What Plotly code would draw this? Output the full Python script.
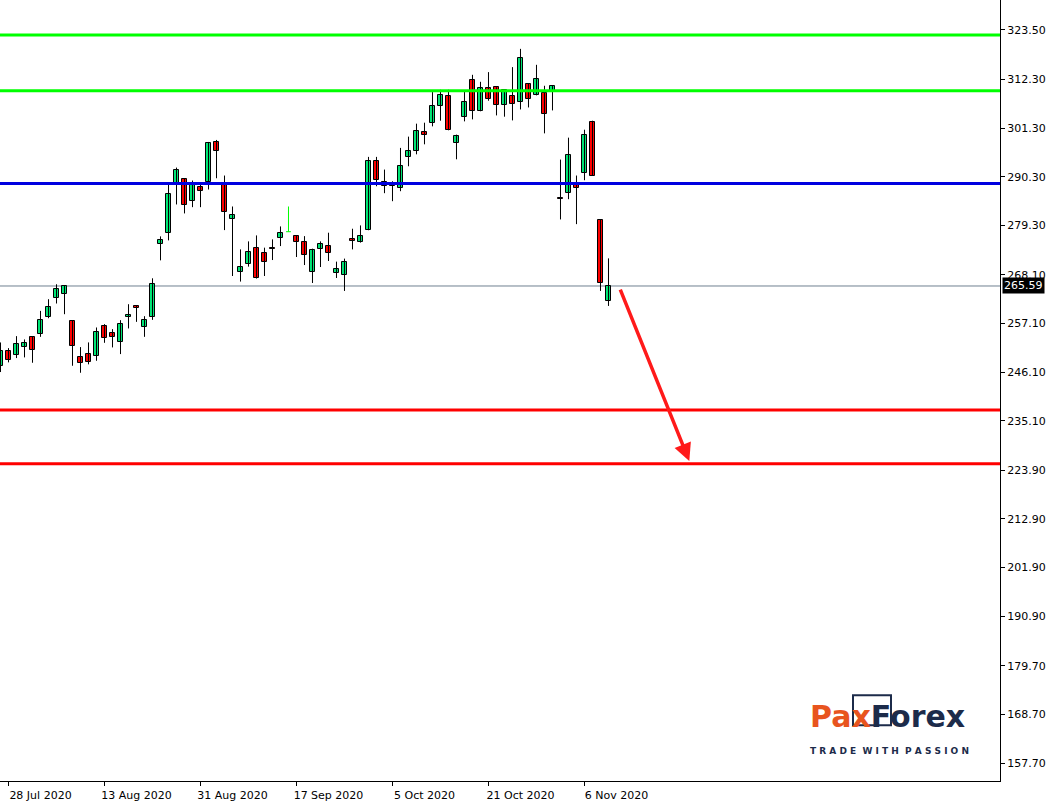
import plotly.graph_objects as go

# ---------------- data (daily candles) ----------------
dates = ["2020-07-27", "2020-07-28", "2020-07-29", "2020-07-30", "2020-07-31",
         "2020-08-03", "2020-08-04", "2020-08-05", "2020-08-06", "2020-08-07",
         "2020-08-10", "2020-08-11", "2020-08-12", "2020-08-13", "2020-08-14",
         "2020-08-17", "2020-08-18", "2020-08-19", "2020-08-20", "2020-08-21",
         "2020-08-24", "2020-08-25", "2020-08-26", "2020-08-27", "2020-08-28",
         "2020-08-31", "2020-09-01", "2020-09-02", "2020-09-03", "2020-09-04",
         "2020-09-08", "2020-09-09", "2020-09-10", "2020-09-11", "2020-09-14",
         "2020-09-15", "2020-09-16", "2020-09-17", "2020-09-18", "2020-09-21",
         "2020-09-22", "2020-09-23", "2020-09-24", "2020-09-25", "2020-09-28",
         "2020-09-29", "2020-09-30", "2020-10-01", "2020-10-02", "2020-10-05",
         "2020-10-06", "2020-10-07", "2020-10-08", "2020-10-09", "2020-10-12",
         "2020-10-13", "2020-10-14", "2020-10-15", "2020-10-16", "2020-10-19",
         "2020-10-20", "2020-10-21", "2020-10-22", "2020-10-23", "2020-10-26",
         "2020-10-27", "2020-10-28", "2020-10-29", "2020-10-30", "2020-11-02",
         "2020-11-03", "2020-11-04", "2020-11-05", "2020-11-06", "2020-11-09",
         "2020-11-10", "2020-11-11"]

opens = [247.41, 250.80, 249.90, 251.84, 254.02, 254.63, 258.60, 262.98, 263.88, 257.57,
         249.44, 250.12, 249.67, 256.44, 254.86, 252.83, 258.47, 261.00, 256.35, 258.69,
         275.16, 277.55, 288.70, 289.82, 284.86, 288.02, 289.06, 298.24, 288.92, 280.80,
         268.84, 270.65, 274.26, 273.13, 274.15, 276.51, 277.87, 276.97, 275.61, 268.75,
         273.94, 274.71, 268.53, 268.17, 276.29, 275.52, 278.32, 293.95, 289.15, 288.92,
         287.79, 294.70, 296.14, 300.49, 302.46, 306.29, 308.55, 297.94, 303.81, 312.16,
         305.16, 310.26, 310.49, 306.43, 308.46, 307.19, 311.25, 308.77, 309.22, 309.58,
         285.50, 286.58, 288.76, 291.18, 302.75, 280.57, 262.30]

highs = [252.82, 251.54, 254.25, 253.50, 254.25, 259.96, 262.60, 265.98, 265.80, 257.70,
         251.77, 252.83, 256.21, 256.96, 255.83, 257.86, 261.47, 261.09, 258.76, 267.33,
         276.81, 288.92, 292.37, 289.90, 289.44, 288.92, 298.17, 298.62, 290.57, 283.57,
         273.87, 275.68, 277.03, 274.26, 276.13, 279.06, 283.57, 277.00, 276.87, 274.03,
         275.68, 277.64, 271.10, 271.78, 278.54, 279.29, 294.79, 294.79, 291.92, 289.28,
         296.82, 299.37, 302.30, 302.52, 309.45, 309.97, 309.97, 299.82, 309.90, 313.35,
         311.77, 313.96, 310.55, 310.13, 315.09, 319.22, 311.30, 315.61, 310.87, 311.03,
         294.18, 299.14, 290.57, 300.94, 302.97, 280.60, 271.84]

lows = [246.13, 248.32, 249.29, 249.44, 248.23, 254.09, 258.30, 261.63, 259.21, 247.55,
        245.97, 247.87, 248.68, 252.74, 251.70, 250.19, 255.99, 257.48, 254.09, 257.93,
        271.39, 275.91, 284.03, 282.00, 283.42, 283.42, 287.41, 289.96, 278.23, 267.85,
        266.59, 269.97, 267.27, 267.85, 271.46, 274.62, 277.87, 272.14, 270.33, 266.27,
        269.88, 271.24, 267.40, 264.47, 273.87, 275.40, 278.20, 288.15, 286.58, 284.77,
        287.03, 292.67, 295.37, 297.63, 301.69, 302.97, 300.80, 294.24, 302.82, 303.27,
        305.10, 307.49, 304.17, 303.88, 303.04, 305.52, 305.97, 308.70, 300.11, 305.30,
        280.64, 285.22, 279.58, 289.51, 290.50, 264.47, 261.08]

closes = [250.80, 248.90, 252.38, 252.67, 251.02, 257.79, 260.95, 265.01, 265.60, 251.93,
          248.09, 248.32, 255.08, 253.73, 253.96, 256.89, 259.14, 260.70, 257.86, 265.98,
          276.06, 286.44, 291.85, 283.87, 288.92, 287.03, 297.94, 296.14, 282.29, 281.54,
          269.97, 273.36, 267.40, 271.10, 273.90, 277.64, 277.87, 275.61, 272.59, 273.81,
          275.16, 273.04, 269.52, 271.10, 275.75, 276.97, 293.88, 289.60, 288.25, 288.25,
          292.76, 296.21, 300.65, 299.75, 306.36, 308.77, 300.88, 299.52, 307.19, 305.16,
          310.26, 307.78, 306.43, 309.81, 306.74, 317.12, 307.87, 312.38, 304.49, 310.80,
          285.20, 295.31, 287.70, 299.75, 290.50, 266.36, 265.59]

tick_dates = ["2020-07-28", "2020-08-13", "2020-08-31", "2020-09-17",
              "2020-10-05", "2020-10-21", "2020-11-06"]
tick_labels = ["28 Jul 2020", "13 Aug 2020", "31 Aug 2020", "17 Sep 2020",
               "5 Oct 2020", "21 Oct 2020", "6 Nov 2020"]
price_ticks = [323.50, 312.30, 301.30, 290.30, 279.30, 268.10, 257.10, 246.10,
               235.10, 223.90, 212.90, 201.90, 190.90, 179.70, 168.70, 157.70]

resistance_levels = [322.37, 309.74]
pivot_levels = [288.76]
support_levels = [237.56, 225.38]
last_price = 265.59
arrow_start = (77.4, 265.1)   # (bar index, price)
arrow_end = (86.1, 226.0)

x_range = [-0.0625, 124.94]
y_range = [153.64, 330.27]

# ---------------- styling ----------------
BULL = "#00E676"
BEAR = "#FF0000"
DOJI = "#00FF00"
FONT = "DejaVu Sans"

xs = list(range(len(dates)))

fig = go.Figure()

# wicks
wx, wy = [], []
dx, dy = [], []
for i in xs:
    if opens[i] == closes[i]:
        dx += [i, i, None, i - 0.3, i + 0.3, None]
        dy += [highs[i], lows[i], None, opens[i], opens[i], None]
    else:
        wx += [i, i, None]
        wy += [lows[i], highs[i], None]

fig.add_trace(go.Scatter(x=wx, y=wy, mode="lines",
                         line=dict(color="black", width=1),
                         hoverinfo="skip", showlegend=False))
fig.add_trace(go.Scatter(x=dx, y=dy, mode="lines",
                         line=dict(color=DOJI, width=1),
                         hoverinfo="skip", showlegend=False))

# bodies
bx, bbase, bh, bcol = [], [], [], []
for i in xs:
    if opens[i] == closes[i]:
        continue
    bx.append(i)
    bbase.append(min(opens[i], closes[i]))
    bh.append(abs(closes[i] - opens[i]))
    bcol.append(BULL if closes[i] > opens[i] else BEAR)

fig.add_trace(go.Bar(x=bx, y=bh, base=bbase, width=0.6,
                     marker=dict(color=bcol, line=dict(color="black", width=1)),
                     showlegend=False, hoverinfo="skip"))

shapes = []
for lv in resistance_levels:
    shapes.append(dict(type="line", xref="paper", x0=0, x1=1, yref="y", y0=lv, y1=lv,
                       line=dict(color="#00FF00", width=3)))
for lv in pivot_levels:
    shapes.append(dict(type="line", xref="paper", x0=0, x1=1, yref="y", y0=lv, y1=lv,
                       line=dict(color="#0000E0", width=3)))
for lv in support_levels:
    shapes.append(dict(type="line", xref="paper", x0=0, x1=1, yref="y", y0=lv, y1=lv,
                       line=dict(color="#FF0000", width=3)))
shapes.append(dict(type="line", xref="paper", x0=0, x1=1, yref="y", y0=last_price, y1=last_price,
                   line=dict(color="#708090", width=1), layer="below"))
# logo box
shapes.append(dict(type="rect", xref="paper", yref="paper",
                   x0=0.853, x1=0.891, y0=0.0715, y1=0.1098,
                   line=dict(color="#1C2B4A", width=2)))

annotations = [
    dict(x=1, xref="paper", y=last_price, yref="y", xanchor="left", yanchor="middle",
         text="%.2f" % last_price, showarrow=False, xshift=2,
         font=dict(family=FONT, size=11, color="white"),
         bgcolor="black", borderpad=1),
    dict(x=arrow_end[0], y=arrow_end[1], ax=arrow_start[0], ay=arrow_start[1],
         xref="x", yref="y", axref="x", ayref="y", text="", showarrow=True,
         arrowhead=2, arrowsize=1, arrowwidth=3.5, arrowcolor="#FF1A1A"),
    dict(x=0.808, xref="paper", y=0.083, yref="paper", xanchor="left", yanchor="middle",
         text='<span style="color:#E8541E">Pax</span><span style="color:#1C2B4A">Forex</span>',
         showarrow=False, font=dict(family=FONT, size=30, color="#1C2B4A", weight="bold")),
    dict(x=0.889, xref="paper", y=0.038, yref="paper", xanchor="center", yanchor="middle",
         text="T R A D E  W I T H  P A S S I O N", showarrow=False,
         font=dict(family=FONT, size=9, color="#1C2B4A", weight="bold")),
]

fig.update_layout(
    width=1057, height=802,
    margin=dict(l=0, r=57, t=0, b=19, pad=0),
    paper_bgcolor="white", plot_bgcolor="white",
    showlegend=False, bargap=0,
    shapes=shapes, annotations=annotations,
    xaxis=dict(range=x_range, tickmode="array",
               tickvals=[dates.index(d) for d in tick_dates], ticktext=tick_labels,
               ticks="outside", ticklen=4, tickcolor="black", tickwidth=1,
               showline=True, linecolor="black", linewidth=1,
               showgrid=False, zeroline=False, ticklabelshift=32,
               tickfont=dict(family=FONT, size=11, color="black"), fixedrange=True),
    yaxis=dict(range=y_range, side="right", tickmode="array",
               tickvals=price_ticks, ticktext=["%.2f" % v for v in price_ticks],
               ticks="outside", ticklen=4, tickcolor="black", tickwidth=1,
               showline=True, linecolor="black", linewidth=1,
               showgrid=False, zeroline=False,
               tickfont=dict(family=FONT, size=11, color="black"), fixedrange=True),
)

fig.write_html("out.html", post_script="document.body.style.margin='0px';",
               config={"displayModeBar": False})
